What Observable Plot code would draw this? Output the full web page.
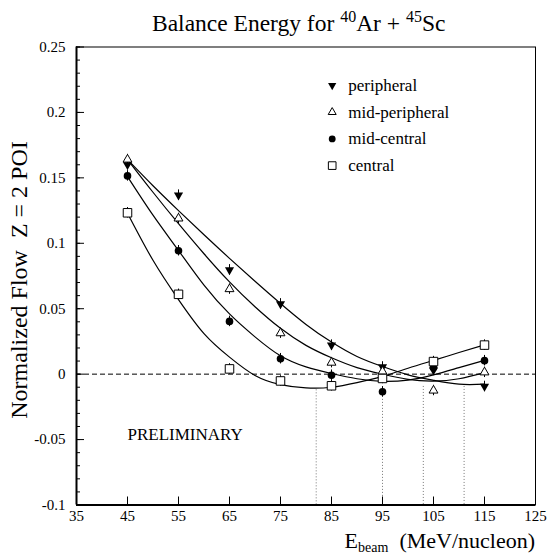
<!DOCTYPE html>
<html><head><meta charset="utf-8">
<script src="https://cdn.jsdelivr.net/npm/d3@7"></script>
<script src="https://cdn.jsdelivr.net/npm/@observablehq/plot@0.6"></script>
<style>
body{margin:0;background:#fff;}
#wrap{width:547px;height:556px;}
svg text{font-family:"Liberation Serif",serif;}
</style></head><body>
<div id="wrap"></div>
<script>
// ---- data ----
const energies = [45, 55, 65, 75, 85, 95, 105, 115];
const peripheral    = [0.160, 0.1368, 0.0797, 0.0537, 0.0222, 0.0055, 0.003, -0.0094];
const midPeripheral = [0.164, 0.119, 0.065, 0.0313, 0.0088, 0.002, -0.0125, 0.0014];
const midCentral    = [0.1515, 0.0943, 0.0403, 0.0118, -0.0008, -0.0135, 0.005, 0.0103];
const central       = [0.1233, 0.061, 0.004, -0.0052, -0.0089, -0.0033, 0.0096, 0.0222];
const errHalf = 0.004;

// fitted curves
const fitX = [45, 50, 55, 60, 65, 70, 75, 80, 85, 90, 95, 100, 105, 110, 115];
const peripheralFit    = [0.164, 0.144, 0.125, 0.1065, 0.0885, 0.071, 0.054, 0.038, 0.0245, 0.0135, 0.0058, -0.0005, -0.0047, -0.0077, -0.0077];
const midPeripheralFit = [0.164, 0.139, 0.115, 0.092, 0.0705, 0.0515, 0.035, 0.022, 0.0125, 0.005, 0.0, -0.004, -0.0053, -0.0035, 0.0012];
const midCentralFit    = [0.151, 0.1215, 0.0945, 0.068, 0.046, 0.0285, 0.014, 0.0055, 0.0005, -0.0035, -0.0055, -0.0045, -0.0005, 0.005, 0.0105];
const centralFit       = [0.123, 0.087, 0.057, 0.031, 0.013, -0.001, -0.008, -0.0105, -0.010, -0.0065, -0.0017, 0.0045, 0.0105, 0.0165, 0.0224];

// balance energies (dotted drop lines)
const balanceE   = [82, 95, 103, 111];
const balanceTop = [-0.012, -0.017, -0.0094, -0.0094];

const seriesNames = ["peripheral", "mid-peripheral", "mid-central", "central"];
const xTicks = [35, 45, 55, 65, 75, 85, 95, 105, 115, 125];
const yTicks = [-0.1, -0.05, 0, 0.05, 0.1, 0.15, 0.2, 0.25];
const yMinor = d3.range(-10, 26).map(i => i / 100);
const prelimLabel = "PRELIMINARY";
const prelimPos = {x: 45, y: -0.046};

// ---- build tables ----
const valueSets = [peripheral, midPeripheral, midCentral, central];
const fitSets = [peripheralFit, midPeripheralFit, midCentralFit, centralFit];
const points = valueSets.flatMap((vals, s) => vals.map((v, i) => ({series: seriesNames[s], x: energies[i], y: v})));
const fits = fitSets.flatMap((vals, s) => vals.map((v, i) => ({series: seriesNames[s], x: fitX[i], y: v})));
const balance = balanceE.map((e, i) => ({x: e, y1: balanceTop[i], y2: -0.1}));

const downTriangle = {
  draw(context, size) {
    const y = Math.sqrt(size / (Math.sqrt(3) * 3));
    context.moveTo(0, y * 2);
    context.lineTo(-Math.sqrt(3) * y, -y);
    context.lineTo(Math.sqrt(3) * y, -y);
    context.closePath();
  }
};
const styles = {
  "peripheral":     {symbol: downTriangle, fill: "black", stroke: "none", r: 3.4},
  "mid-peripheral": {symbol: "triangle", fill: "white", stroke: "black", strokeWidth: 1, r: 3.3},
  "mid-central":    {symbol: "circle", fill: "black", stroke: "none", r: 3.8},
  "central":        {symbol: "square", fill: "white", stroke: "black", strokeWidth: 1, r: 4.8}
};

const W = 547, H = 556, mL = 76, mR = 12, mT = 46.5, mB = 51.5;
const plotW = W - mL - mR, plotH = H - mT - mB;

const marks = [
  Plot.ruleY([0], {stroke: "black", strokeWidth: 1, strokeDasharray: "5,3"}),
  Plot.ruleX(balance, {x: "x", y1: "y1", y2: "y2", stroke: "#777", strokeWidth: 1, strokeDasharray: "1,2"}),
  Plot.line(fits, {x: "x", y: "y", z: "series", curve: "natural", stroke: "black", strokeWidth: 1.2}),
  Plot.ruleX(points, {x: "x", y1: d => d.y - errHalf, y2: d => d.y + errHalf, stroke: "black", strokeWidth: 1})
];
seriesNames.forEach((name, i) => {
  const st = styles[name];
  marks.push(Plot.dot(points.filter(d => d.series === name), {x: "x", y: "y", ...st}));
  // legend entries
  marks.push(Plot.dot([name], {frameAnchor: "top-left", dx: 255.7, dy: 38.5 + i * 26.7, ...st, r: st.r * 0.9}));
  marks.push(Plot.text([name], {frameAnchor: "top-left", dx: 271.7, dy: 38.5 + i * 26.7, text: d => d, textAnchor: "start", lineAnchor: "middle", fontSize: 17}));
});
marks.push(
  Plot.text([prelimLabel], {x: () => prelimPos.x, y: () => prelimPos.y, text: d => d, textAnchor: "start", lineAnchor: "middle", fontSize: 17}),
  Plot.tickY(yMinor, {y: d => d, insetRight: plotW - 4, stroke: "black", strokeWidth: 1}),
  Plot.tickY(yTicks, {y: d => d, insetRight: plotW - 8, stroke: "black", strokeWidth: 1}),
  Plot.tickX(xTicks, {x: d => d, insetTop: plotH - 8, stroke: "black", strokeWidth: 1}),
  Plot.frame({stroke: "black", strokeWidth: 1}),
  Plot.ruleX([35], {stroke: "black", strokeWidth: 2}),
  Plot.ruleY([-0.1], {stroke: "black", strokeWidth: 2}),
  Plot.axisX({ticks: xTicks, tickSize: 0, tickPadding: 5, tickFormat: d => String(d), label: null, fontSize: 15}),
  Plot.axisY({ticks: yTicks, tickSize: 0, tickPadding: 11, tickFormat: d => String(d), label: null, fontSize: 15})
);

const chart = Plot.plot({
  width: W, height: H,
  marginLeft: mL, marginRight: mR, marginTop: mT, marginBottom: mB,
  x: {domain: [35, 125]},
  y: {domain: [-0.1, 0.25]},
  style: {fontFamily: "Liberation Serif", fontSize: "15px", color: "black", background: "white", overflow: "visible"},
  marks
});
document.getElementById("wrap").appendChild(chart);

// titles with super/subscripts
const svg = d3.select(chart);
const t = svg.append("text").attr("x", 152).attr("y", 31).attr("text-anchor", "start")
  .attr("font-size", 23.5).attr("fill", "black").style("white-space", "pre");
t.append("tspan").text("Balance Energy for ");
t.append("tspan").attr("dy", -9).attr("font-size", 16).text("40");
t.append("tspan").attr("dy", 9).text("Ar + ");
t.append("tspan").attr("dy", -9).attr("font-size", 16).text("45");
t.append("tspan").attr("dy", 9).text("Sc");

const yl = svg.append("text").attr("transform", "translate(27,280) rotate(-90)")
  .attr("text-anchor", "middle").attr("font-size", 24).attr("fill", "black").style("white-space", "pre");
yl.text("Normalized Flow  Z = 2 POI");

const xl = svg.append("text").attr("x", 535).attr("y", 548).attr("text-anchor", "end")
  .attr("font-size", 22).attr("fill", "black").style("white-space", "pre");
xl.append("tspan").text("E");
xl.append("tspan").attr("dy", 3.5).attr("font-size", 14).text("beam");
xl.append("tspan").attr("dy", -3.5).text("  (MeV/nucleon)");
</script>
</body></html>
